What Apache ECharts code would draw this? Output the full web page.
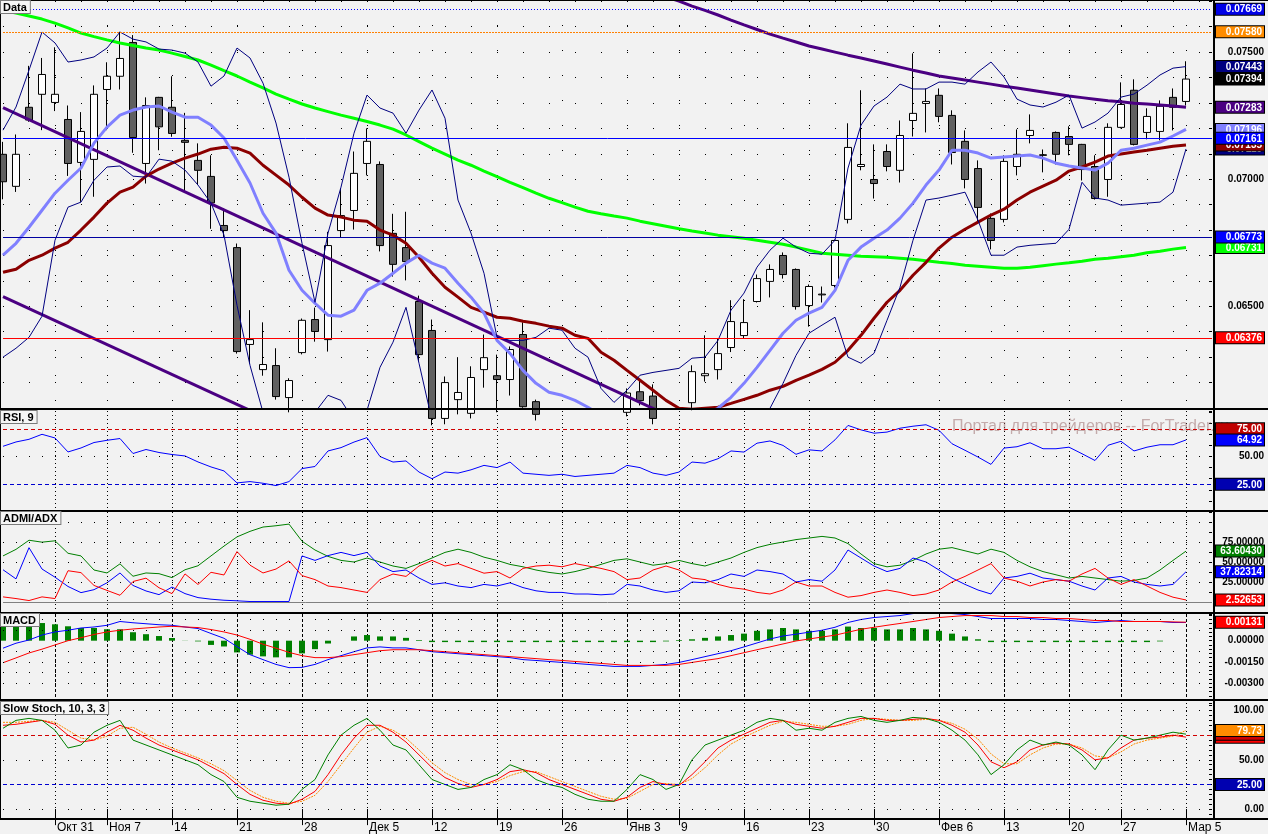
<!DOCTYPE html>
<html>
<head>
<meta charset="utf-8">
<title>Data</title>
<script src="https://cdn.jsdelivr.net/npm/echarts@6.0.0/dist/echarts.min.js"></script>
<style>
html,body{margin:0;padding:0;background:#f2f2f2;}
#chart{width:1268px;height:834px;}
</style>
</head>
<body>
<div id="chart"></div>
<script>
// ================= DATA =================
const dates = ['10.25','10.26','10.27','10.28','10.31','11.01','11.02','11.03','11.07','11.08','11.09','11.10','11.11','11.14','11.15','11.16','11.17','11.18','11.21','11.22','11.23','11.24','11.25','11.28','11.29','11.30','12.01','12.02','12.05','12.06','12.07','12.08','12.09','12.12','12.13','12.14','12.15','12.16','12.19','12.20','12.21','12.22','12.23','12.26','12.27','12.28','12.29','12.30','01.03','01.04','01.05','01.06','01.09','01.10','01.11','01.12','01.13','01.16','01.17','01.18','01.19','01.20','01.23','01.24','01.25','01.26','01.27','01.30','01.31','02.01','02.02','02.03','02.06','02.07','02.08','02.09','02.10','02.13','02.14','02.15','02.16','02.17','02.20','02.21','02.22','02.23','02.27','02.28','02.29','03.01','03.02','03.05','03.06','03.07'];
const weekStartDates = ['10.31','11.07','11.14','11.21','11.28','12.05','12.12','12.19','12.26','01.03','01.09','01.16','01.23','01.30','02.06','02.13','02.20','02.27','03.05'];
const monthNames = {'01':'Янв','02':'Фев','03':'Мар','10':'Окт','11':'Ноя','12':'Дек'};

const candleOpen = [0.07098,0.06972,0.07283,0.07334,0.07302,0.07235,0.07066,0.07078,0.07353,0.07405,
 0.07538,0.07062,0.07322,0.07283,0.07153,0.07074,0.07011,0.06818,0.06731,0.06350,
 0.06251,0.06267,0.06141,0.06318,0.06448,0.06369,0.06798,0.06877,0.07062,0.07058,
 0.06787,0.06731,0.06519,0.06405,0.06059,0.06133,0.06079,0.06251,0.06227,0.06212,
 0.06389,0.06125,0.06075,0.06051,0.06067,0.06036,0.06059,0.06075,0.06083,0.06164,
 0.06147,0.06059,0.06028,0.06121,0.06227,0.06251,0.06338,0.06385,0.06519,0.06598,
 0.06700,0.06645,0.06503,0.06545,0.06582,0.06842,0.07050,0.06999,0.07109,0.07035,
 0.07231,0.07298,0.07330,0.07251,0.07149,0.07042,0.06846,0.06842,0.07050,0.07172,
 0.07096,0.07184,0.07168,0.07137,0.07050,0.06999,0.07204,0.07350,0.07184,0.07188,
 0.07322,0.07306];
const candleHigh = [0.07147,0.07176,0.07446,0.07477,0.07519,0.07290,0.07264,0.07369,0.07460,0.07580,
 0.07567,0.07322,0.07324,0.07405,0.07261,0.07141,0.07094,0.06885,0.06747,0.06485,
 0.06437,0.06335,0.06217,0.06452,0.06495,0.06793,0.06964,0.07109,0.07200,0.07070,
 0.06864,0.06872,0.06542,0.06448,0.06224,0.06300,0.06264,0.06389,0.06310,0.06342,
 0.06437,0.06133,0.06091,0.06083,0.06091,0.06075,0.06087,0.06095,0.06177,0.06209,
 0.06193,0.06083,0.06091,0.06268,0.06386,0.06373,0.06524,0.06528,0.06625,0.06665,
 0.06712,0.06649,0.06586,0.06578,0.06763,0.07220,0.07350,0.07137,0.07137,0.07231,
 0.07495,0.07357,0.07357,0.07271,0.07192,0.07074,0.06865,0.07094,0.07196,0.07255,
 0.07117,0.07188,0.07208,0.07139,0.07094,0.07220,0.07381,0.07393,0.07279,0.07310,
 0.07357,0.07464];
const candleLow = [0.06921,0.06950,0.07226,0.07193,0.07268,0.07013,0.06911,0.06931,0.07193,0.07353,
 0.07104,0.06983,0.07114,0.07167,0.06950,0.06977,0.06805,0.06773,0.06314,0.06275,
 0.06227,0.06133,0.06083,0.06311,0.06361,0.06322,0.06771,0.06802,0.07015,0.06716,
 0.06617,0.06602,0.06283,0.06032,0.06036,0.06075,0.06059,0.06180,0.06083,0.06149,
 0.06101,0.06051,0.06028,0.06020,0.06004,0.06012,0.06036,0.06051,0.06067,0.06110,
 0.06036,0.06004,0.06012,0.06091,0.06204,0.06212,0.06320,0.06373,0.06515,0.06535,
 0.06609,0.06487,0.06420,0.06515,0.06574,0.06826,0.07035,0.06924,0.07031,0.06987,
 0.07168,0.07184,0.07224,0.07058,0.06964,0.06830,0.06724,0.06830,0.07015,0.07141,
 0.07027,0.07058,0.07094,0.06995,0.06920,0.06931,0.07200,0.07133,0.07157,0.07153,
 0.07192,0.07290];
const candleClose = [0.06990,0.07098,0.07233,0.07412,0.07334,0.07062,0.07188,0.07334,0.07405,0.07475,
 0.07164,0.07290,0.07206,0.07180,0.07145,0.07035,0.06907,0.06798,0.06322,0.06369,
 0.06271,0.06145,0.06208,0.06445,0.06401,0.06739,0.06857,0.07023,0.07149,0.06739,
 0.06665,0.06676,0.06310,0.06059,0.06200,0.06161,0.06220,0.06298,0.06212,0.06330,
 0.06105,0.06075,0.06051,0.06067,0.06036,0.06059,0.06075,0.06091,0.06159,0.06129,
 0.06059,0.06028,0.06083,0.06243,0.06235,0.06314,0.06440,0.06436,0.06609,0.06645,
 0.06625,0.06499,0.06578,0.06548,0.06759,0.07125,0.07058,0.06983,0.07050,0.07172,
 0.07259,0.07306,0.07247,0.07105,0.06999,0.06889,0.06759,0.07070,0.07098,0.07192,
 0.07094,0.07098,0.07137,0.07038,0.06924,0.07204,0.07294,0.07137,0.07247,0.07287,
 0.07283,0.07394];

const maLightBlue = [0.06701,0.06748,0.06811,0.06878,0.06945,0.06996,0.07044,0.07142,0.07205,0.07252,
 0.07272,0.07284,0.07288,0.07264,0.07244,0.07244,0.07213,0.07162,0.07075,0.06985,
 0.06866,0.06788,0.06642,0.06563,0.06512,0.06465,0.06461,0.06485,0.06563,0.06591,
 0.06630,0.06670,0.06701,0.06670,0.06650,0.06591,0.06536,0.06473,0.06366,0.06315,
 0.06248,0.06197,0.06162,0.06150,0.06130,0.06103,0.06071,0.06032,0.06012,0.06004,
 0.06012,0.06020,0.06032,0.06051,0.06075,0.06099,0.06142,0.06197,0.06260,0.06327,
 0.06394,0.06445,0.06473,0.06496,0.06563,0.06681,0.06733,0.06768,0.06800,0.06847,
 0.06906,0.06977,0.07036,0.07114,0.07114,0.07103,0.07083,0.07087,0.07091,0.07095,
 0.07083,0.07063,0.07052,0.07044,0.07036,0.07063,0.07114,0.07122,0.07134,0.07146,
 0.07170,0.07196];
const maDarkRed = [0.06634,0.06646,0.06681,0.06701,0.06729,0.06752,0.06800,0.06851,0.06906,0.06949,
 0.06969,0.07012,0.07040,0.07063,0.07083,0.07099,0.07118,0.07126,0.07122,0.07103,
 0.07055,0.07016,0.06977,0.06929,0.06886,0.06859,0.06851,0.06839,0.06835,0.06800,
 0.06780,0.06748,0.06693,0.06630,0.06575,0.06536,0.06496,0.06477,0.06457,0.06453,
 0.06441,0.06433,0.06422,0.06414,0.06386,0.06374,0.06319,0.06288,0.06248,0.06209,
 0.06170,0.06130,0.06099,0.06095,0.06099,0.06103,0.06118,0.06134,0.06150,0.06170,
 0.06185,0.06209,0.06229,0.06252,0.06280,0.06327,0.06386,0.06453,0.06516,0.06563,
 0.06622,0.06673,0.06729,0.06772,0.06803,0.06831,0.06859,0.06882,0.06918,0.06949,
 0.06973,0.06996,0.07032,0.07048,0.07067,0.07091,0.07099,0.07107,0.07114,0.07122,
 0.07130,0.07135];
const maGreen = [0.07664,0.07654,0.07642,0.07630,0.07614,0.07595,0.07575,0.07561,0.07548,0.07536,
 0.07526,0.07516,0.07508,0.07496,0.07483,0.07469,0.07449,0.07427,0.07406,0.07382,
 0.07359,0.07335,0.07315,0.07296,0.07280,0.07266,0.07252,0.07240,0.07227,0.07213,
 0.07197,0.07174,0.07148,0.07122,0.07099,0.07075,0.07055,0.07032,0.07010,0.06988,
 0.06967,0.06945,0.06925,0.06908,0.06890,0.06874,0.06864,0.06855,0.06847,0.06835,
 0.06825,0.06815,0.06805,0.06796,0.06788,0.06780,0.06774,0.06768,0.06760,0.06752,
 0.06744,0.06733,0.06721,0.06709,0.06705,0.06701,0.06697,0.06695,0.06693,0.06689,
 0.06685,0.06679,0.06673,0.06668,0.06662,0.06658,0.06654,0.06650,0.06650,0.06654,
 0.06660,0.06666,0.06671,0.06677,0.06685,0.06689,0.06695,0.06701,0.06711,0.06717,
 0.06725,0.06731];
const maPurple = [null,null,null,null,null,null,null,null,null,null,
 null,null,null,null,null,null,null,null,null,null,
 null,null,null,null,null,null,null,null,null,null,
 null,null,null,null,null,null,null,null,null,null,
 null,null,null,null,null,null,null,null,null,null,
 0.07736,0.07717,0.07701,0.07681,0.07664,0.07646,0.07626,0.07607,0.07589,0.07571,
 0.07555,0.07540,0.07524,0.07512,0.07500,0.07488,0.07477,0.07465,0.07453,0.07441,
 0.07429,0.07418,0.07406,0.07398,0.07390,0.07382,0.07374,0.07366,0.07359,0.07351,
 0.07343,0.07335,0.07327,0.07321,0.07315,0.07309,0.07305,0.07299,0.07296,0.07292,
 0.07288,0.07283];
const bandUpper = [0.07193,0.07284,0.07429,0.07579,0.07536,0.07461,0.07469,0.07481,0.07516,0.07579,
 0.07551,0.07540,0.07512,0.07508,0.07496,0.07461,0.07366,0.07406,0.07516,0.07477,
 0.07378,0.07221,0.07008,0.06748,0.06516,0.06788,0.06969,0.07181,0.07331,0.07280,
 0.07260,0.07181,0.07272,0.07351,0.07240,0.06918,0.06788,0.06630,0.06378,0.06366,
 0.06366,0.06378,0.06414,0.06406,0.06335,0.06300,0.06177,0.06122,0.06170,0.06229,
 0.06240,0.06248,0.06256,0.06296,0.06300,0.06366,0.06485,0.06552,0.06654,0.06721,
 0.06768,0.06733,0.06709,0.06705,0.06760,0.07044,0.07213,0.07288,0.07323,0.07374,
 0.07355,0.07355,0.07382,0.07382,0.07374,0.07422,0.07461,0.07402,0.07315,0.07292,
 0.07284,0.07303,0.07331,0.07201,0.07225,0.07260,0.07323,0.07335,0.07370,0.07410,
 0.07437,0.07443];
const bandLower = [0.06300,0.06335,0.06378,0.06461,0.06760,0.06890,0.06910,0.06996,0.07048,0.07052,
 0.07012,0.07008,0.07079,0.07071,0.07036,0.06977,0.06906,0.06780,0.06504,0.06268,
 0.06083,0.06012,0.05973,0.06012,0.06083,0.06150,0.06130,0.06051,0.06091,0.06260,
 0.06359,0.06496,0.06276,0.06051,0.05973,0.05933,0.05914,0.05914,0.05933,0.05941,
 0.05933,0.05914,0.05902,0.05894,0.05886,0.05874,0.05874,0.05874,0.05886,0.05894,
 0.05902,0.05914,0.05925,0.05941,0.05957,0.05973,0.06004,0.06032,0.06060,0.06099,
 0.06197,0.06307,0.06394,0.06426,0.06457,0.06300,0.06276,0.06315,0.06445,0.06575,
 0.06760,0.06918,0.06926,0.06937,0.06949,0.06839,0.06701,0.06701,0.06733,0.06740,
 0.06744,0.06748,0.06803,0.06988,0.06926,0.06918,0.06898,0.06902,0.06906,0.06910,
 0.06949,0.07119];
// channel trend lines: [bar index, price]
const trendUpper = [[0, 0.07282], [52, 0.06051]];
const trendLower = [[0, 0.06538], [20, 0.06067]];
const priceLevels = {blueDotted: 0.07669, orangeDotted: 0.07580, blueSolid: 0.07161, navySolid: 0.06773, redSolid: 0.06376};
const priceTicks = [0.065, 0.070, 0.075];

const rsi = [59.2,63.1,65.5,70.0,66.7,54.1,57.7,62.6,64.6,66.2,
 52.7,56.3,53.6,51.8,50.5,45.1,40.6,37.0,26.2,27.4,
 25.9,23.8,27.4,39.1,41.0,55.0,58.0,63.0,67.0,50.0,
 45.0,46.0,36.0,30.0,36.0,35.0,38.0,42.0,40.0,45.0,
 35.0,34.0,33.0,34.0,32.0,33.0,34.0,35.0,42.0,40.0,
 35.0,33.0,36.0,45.0,44.0,48.0,55.0,54.0,62.0,64.0,
 60.0,52.0,56.0,55.0,65.0,78.0,74.0,71.0,72.0,75.5,
 77.3,78.6,73.6,61.5,55.6,49.5,42.9,57.6,58.8,62.4,
 57.0,57.0,58.4,52.5,46.4,60.1,63.7,55.0,58.4,60.6,
 60.6,64.92];
const rsiLevels = [75, 25];

const adxMain = [57.6,65.8,77.2,74.8,76.5,60.9,57.6,40.0,36.3,47.7,
 32.2,36.3,35.4,30.5,40.3,45.3,57.6,69.9,81.4,88.3,
 93.7,95.3,97.4,76.0,65,57,52,50,55,50,
 45,42,48,55,62,66,62,56,52,47,
 44,40,37,35,38,42,47,52,54,50,
 46,48,52,48,45,50,55,62,68,72,
 75,78,80,82,80,73,60,48,44,46,
 52,60,66,68,64,60,66,62,52,44,
 38,34,30,32,30,28,26,27,30,40,
 52,63.60430];
const adxPlus = [40.3,28.9,67.9,41.2,31.0,19.4,11.7,15.4,24.0,36.3,
 20.7,13.8,9.2,18.7,10.5,5.5,3.5,2.2,1.5,0.6,
 0.6,0.6,0.6,57.6,52,58,62,58,62,45,
 38,40,30,22,24,20,18,22,20,24,
 18,14,12,12,10,10,9,10,22,20,
 15,12,14,25,24,28,35,32,40,38,
 35,25,28,26,40,65,55,45,38,42,
 55,50,40,30,22,15,10,30,32,36,
 30,28,26,20,15,30,32,25,22,20,
 22,37.82314];
const adxMinus = [6.4,4.3,1.8,6.4,4.3,39.1,36.7,20.7,14.5,8.4,
 25.6,29.8,17.8,10.5,35.1,21.9,37.1,33.8,63.0,46.1,
 36.3,41.2,51.4,33.0,28,20,18,15,12,28,
 35,32,45,52,45,48,42,36,38,30,
 42,45,46,44,48,45,42,38,28,30,
 40,45,40,30,28,22,18,16,12,10,
 15,25,20,20,12,6,8,12,15,12,
 8,10,15,25,32,40,48,30,26,20,
 25,28,26,35,42,30,22,28,20,12,
 6,2.52653];

const macdHist = [0.00097,0.00097,0.00116,0.00125,0.00116,0.00102,0.00090,0.00090,0.00081,0.00081,
 0.00060,0.00046,0.00033,0.00019,0.00001,-0.00005,-0.00030,-0.00041,-0.00083,-0.00099,
 -0.00111,-0.00118,-0.00118,-0.00090,-0.00060,-0.00020,0.00000,0.00030,0.00040,0.00030,
 0.00030,0.00020,0.00005,-0.00010,-0.00010,-0.00010,-0.00010,-0.00010,-0.00010,-0.00010,
 -0.00010,-0.00010,-0.00010,-0.00010,-0.00010,-0.00010,-0.00010,-0.00010,-0.00010,-0.00010,
 -0.00010,-0.00005,0.00005,0.00010,0.00020,0.00030,0.00040,0.00050,0.00070,0.00080,
 0.00090,0.00080,0.00070,0.00070,0.00080,0.00100,0.00090,0.00090,0.00080,0.00080,
 0.00090,0.00080,0.00070,0.00050,0.00030,0.00010,-0.00010,-0.00010,-0.00010,-0.00010,
 -0.00010,-0.00010,-0.00010,-0.00010,-0.00010,-0.00010,-0.00010,-0.00010,-0.00010,-0.00005,
 0.00000,0.00000];
const macdLine = [-0.00053,-0.00018,0.00005,0.00040,0.00062,0.00074,0.00090,0.00097,0.00109,0.00136,
 0.00127,0.00120,0.00113,0.00109,0.00097,0.00086,0.00051,0.00017,-0.00042,-0.00099,
 -0.00134,-0.00168,-0.00191,-0.00189,-0.00168,-0.00134,-0.00106,-0.00078,-0.00051,-0.00044,
 -0.00051,-0.00051,-0.00064,-0.00078,-0.00085,-0.00092,-0.00099,-0.00106,-0.00113,-0.00120,
 -0.00134,-0.00140,-0.00147,-0.00154,-0.00161,-0.00168,-0.00175,-0.00182,-0.00182,-0.00182,
 -0.00175,-0.00168,-0.00154,-0.00134,-0.00113,-0.00092,-0.00071,-0.00044,-0.00016,0.00012,
 0.00033,0.00046,0.00060,0.00074,0.00095,0.00129,0.00150,0.00164,0.00171,0.00178,
 0.00192,0.00199,0.00199,0.00192,0.00185,0.00171,0.00157,0.00157,0.00157,0.00157,
 0.00150,0.00150,0.00143,0.00136,0.00129,0.00136,0.00143,0.00136,0.00136,0.00136,
 0.00129,0.00129];
const macdSignal = [-0.00156,-0.00122,-0.00087,-0.00060,-0.00030,0.00000,0.00021,0.00044,0.00062,0.00074,
 0.00083,0.00090,0.00097,0.00102,0.00097,0.00093,0.00079,0.00062,0.00040,0.00010,
 -0.00025,-0.00053,-0.00083,-0.00106,-0.00120,-0.00120,-0.00113,-0.00099,-0.00085,-0.00071,
 -0.00064,-0.00064,-0.00064,-0.00071,-0.00078,-0.00085,-0.00092,-0.00099,-0.00106,-0.00113,
 -0.00120,-0.00127,-0.00134,-0.00140,-0.00147,-0.00154,-0.00161,-0.00168,-0.00175,-0.00175,
 -0.00175,-0.00175,-0.00168,-0.00154,-0.00140,-0.00127,-0.00106,-0.00085,-0.00064,-0.00044,
 -0.00023,-0.00002,0.00012,0.00026,0.00039,0.00060,0.00081,0.00095,0.00109,0.00122,
 0.00136,0.00150,0.00164,0.00171,0.00178,0.00178,0.00178,0.00171,0.00171,0.00164,
 0.00164,0.00157,0.00157,0.00150,0.00143,0.00143,0.00136,0.00136,0.00136,0.00136,
 0.00133,0.00131];
const macdTicks = [0, -0.0015, -0.003];

const stochMain = [82,90,92,90,80,62,65,78,85,90,
 70,65,60,55,50,45,35,28,12,8,
 6,4,5,20,30,55,75,85,92,80,
 65,60,45,30,25,20,22,30,35,45,
 40,30,25,22,15,10,8,8,20,35,
 30,20,25,50,65,70,75,80,88,92,
 90,80,82,80,88,92,94,90,88,90,
 93,92,88,80,70,55,35,45,60,70,
 65,68,65,55,40,60,75,70,72,75,
 78,76];
const stochSignal = [85,86,88,90,86,75,68,70,78,85,
 80,72,65,60,55,50,43,36,25,15,
 9,6,5,10,18,35,55,72,85,85,
 78,68,55,42,32,26,22,25,30,38,
 40,37,30,25,20,15,10,8,12,22,
 28,25,24,35,48,62,70,76,82,88,
 90,86,84,82,84,88,92,92,90,90,
 91,92,90,85,78,65,48,42,48,60,
 65,67,66,60,50,52,62,70,72,73,
 75,73];
const stochOrange = [88,88,89,90,88,80,72,70,74,82,
 83,76,68,62,57,52,46,39,29,19,
 12,8,6,8,14,28,45,62,78,84,
 80,72,60,47,37,30,25,25,28,34,
 38,38,33,28,23,18,13,10,11,18,
 25,26,25,31,42,55,66,73,79,85,
 89,88,86,84,84,86,90,92,91,90,
 90,91,90,87,81,71,56,46,46,55,
 62,66,66,62,54,52,58,66,70,72,
 74,79.73];
const stochLevels = [75, 25];

// ================= CHART =================
const FONT = 'Liberation Sans';
const weekIdx = weekStartDates.map(d => dates.indexOf(d));
const isWeek = (i) => weekIdx.indexOf(i) >= 0;
const firstOfMonth = {};
weekStartDates.forEach(d => { const m = d.slice(0, 2); if (!(m in firstOfMonth)) firstOfMonth[m] = d; });
function xLabel(v) {
  const m = v.slice(0, 2), d = parseInt(v.slice(3), 10);
  return firstOfMonth[m] === v ? monthNames[m] + ' ' + d : String(d);
}
const last = a => a[a.length - 1];

function tag(text, bg, fg) {
  return {
    show: true, position: 'end', distance: 4,
    formatter: '{t|' + text + '}',
    rich: { t: { width: 44, align: 'right', color: fg || '#ffffff', backgroundColor: bg,
      borderColor: '#000', borderWidth: 1, padding: [1, 2, 0, 2], lineHeight: 9,
      fontSize: 10, fontWeight: 'bold', fontFamily: FONT } }
  };
}
const noLine = { color: 'rgba(0,0,0,0)', width: 0 };
function valueTag(v, digits, bg, fg) {
  return { yAxis: v, lineStyle: noLine, label: tag(v.toFixed(digits), bg, fg) };
}
function levelLine(v, color, type) {
  return { yAxis: v, lineStyle: { color: color, type: type, width: 1 }, label: { show: false } };
}
function ml(data) {
  return { symbol: ['none', 'none'], silent: true, animation: false, precision: 8, data: data };
}

const grids = [
  { left: 3, right: 56, top: 0, height: 408 },
  { left: 3, right: 56, top: 411, height: 101 },
  { left: 3, right: 56, top: 512, height: 100 },
  { left: 3, right: 56, top: 614, height: 86 },
  { left: 3, right: 56, top: 703, height: 116 }
];

function xAxisFor(k, splitType) {
  const isLast = k === 4;
  return {
    type: 'category', gridIndex: k, data: dates, boundaryGap: false,
    axisLine: { show: false },
    axisTick: isLast ? { show: true, interval: (i) => isWeek(i), length: 16, lineStyle: { color: '#000' } } : { show: false },
    axisLabel: isLast ? { show: true, interval: (i) => isWeek(i), formatter: (v) => xLabel(v), align: 'left',
      margin: 3, padding: [0, 0, 0, 2], color: '#000', fontSize: 12, fontFamily: FONT } : { show: false },
    splitLine: { show: true, interval: (i) => isWeek(i), lineStyle: { color: '#000', width: 1, type: splitType } }
  };
}

const labelBase = { align: 'right', margin: 52, color: '#000', fontWeight: 'bold', fontSize: 10, fontFamily: FONT };
const tickBase = { show: true, inside: true, length: 3, lineStyle: { color: '#000' } };
function near(list, v, eps) { return list.some(t => Math.abs(t - v) < eps); }

const yAxes = [
  { type: 'value', gridIndex: 0, position: 'right', min: 0.061, max: 0.07705, interval: 0.001,
    axisLine: { show: false }, axisTick: tickBase,
    axisLabel: Object.assign({}, labelBase, { formatter: v => near(priceTicks, v, 1e-7) ? v.toFixed(5) : '' }),
    splitLine: { show: true, lineStyle: { color: '#000', type: [1, 25], width: 1 } } },
  { type: 'value', gridIndex: 1, position: 'right', min: 0, max: 91, interval: 10,
    axisLine: { show: false }, axisTick: tickBase,
    axisLabel: Object.assign({}, labelBase, { formatter: v => Math.abs(v - 50) < 1e-6 ? '50.00' : '' }),
    splitLine: { show: false } },
  { type: 'value', gridIndex: 2, position: 'right', min: -12.5, max: 112.5, interval: 12.5,
    axisLine: { show: false }, axisTick: tickBase,
    axisLabel: Object.assign({}, labelBase, { formatter: v => near([25, 50, 75], v, 1e-6) ? v.toFixed(5) : '' }),
    splitLine: { show: false } },
  { type: 'value', gridIndex: 3, position: 'right', min: -0.0042, max: 0.00189, interval: 0.0003,
    axisLine: { show: false }, axisTick: tickBase,
    axisLabel: Object.assign({}, labelBase, { formatter: v => near(macdTicks, v, 1e-8) ? (Math.abs(v) < 1e-8 ? '0.00000' : v.toFixed(5)) : '' }),
    splitLine: { show: false } },
  { type: 'value', gridIndex: 4, position: 'right', min: -10, max: 107.6, interval: 5,
    axisLine: { show: false }, axisTick: tickBase,
    axisLabel: Object.assign({}, labelBase, { formatter: v => near([0, 50, 100], v, 1e-6) ? v.toFixed(2) : '' }),
    splitLine: { show: false } }
];

function line(name, data, x, color, width, z, extra) {
  return Object.assign({ type: 'line', name: name, data: data, xAxisIndex: x, yAxisIndex: x, showSymbol: false,
    symbol: 'none', lineStyle: { color: color, width: width }, z: z || 3, animation: false, connectNulls: false }, extra || {});
}

const candles = candleOpen.map((o, i) => [o, candleClose[i], candleLow[i], candleHigh[i]]);
const dotted = [1, 12];

const series = [
  { type: 'candlestick', name: 'Data', xAxisIndex: 0, yAxisIndex: 0, data: candles, barWidth: 8, z: 2, animation: false,
    itemStyle: { color: '#ffffff', color0: '#606060', borderColor: '#000000', borderColor0: '#000000', borderWidth: 1 },
    markLine: ml([
      levelLine(priceLevels.blueDotted, '#0000ff', [1, 2]),
      levelLine(priceLevels.orangeDotted, '#ff8000', [2, 1]),
      levelLine(priceLevels.blueSolid, '#0000ff', 'solid'),
      levelLine(priceLevels.navySolid, '#0000a0', 'solid'),
      levelLine(priceLevels.redSolid, '#ff0000', 'solid')
    ]) },
  line('MA green', maGreen, 0, '#00ff00', 3),
  line('MA purple', maPurple, 0, '#4b0082', 3),
  line('Trend upper', trendUpper, 0, '#4b0082', 3),
  line('Trend lower', trendLower, 0, '#4b0082', 3),
  line('MA dark red', maDarkRed, 0, '#8b0000', 3),
  line('MA light blue', maLightBlue, 0, '#8080ff', 3),
  line('Band upper', bandUpper, 0, '#000080', 1),
  line('Band lower', bandLower, 0, '#000080', 1),
  // value tags on price scale
  { type: 'line', name: 'tags0', data: [], xAxisIndex: 0, yAxisIndex: 0, z: 20, animation: false,
    markLine: ml([
      valueTag(priceLevels.blueDotted, 5, '#0000e6'),
      valueTag(priceLevels.orangeDotted, 5, '#ff8c00'),
      valueTag(last(bandUpper), 5, '#000080'),
      valueTag(last(candleClose), 5, '#000000'),
      valueTag(last(maPurple), 5, '#4b0082'),
      valueTag(last(bandLower), 5, '#000080'),
      valueTag(last(maDarkRed), 5, '#8b0000'),
      valueTag(last(maLightBlue), 5, '#8080ff'),
      valueTag(priceLevels.blueSolid, 5, '#0000ff'),
      valueTag(last(maGreen), 5, '#00ff00'),
      valueTag(priceLevels.navySolid, 5, '#0000ff'),
      valueTag(priceLevels.redSolid, 5, '#ff0000')
    ]) },

  // RSI
  line('RSI', rsi, 1, '#0000ff', 1, 3, {
    markLine: ml([
      { yAxis: 50, lineStyle: { color: '#000', type: dotted, width: 1 }, label: { show: false } },
      { yAxis: rsiLevels[0], lineStyle: { color: '#d00000', type: [4, 3], width: 1 }, label: tag(rsiLevels[0].toFixed(2), '#c00000') },
      valueTag(last(rsi), 2, '#0000ff'),
      { yAxis: rsiLevels[1], lineStyle: { color: '#0000d0', type: [4, 3], width: 1 }, label: tag(rsiLevels[1].toFixed(2), '#0000b0') }
    ]) }),

  // ADX
  line('ADX', adxMain, 2, '#008000', 1),
  line('+DI', adxPlus, 2, '#0000ff', 1),
  line('-DI', adxMinus, 2, '#ff0000', 1, 3, {
    markLine: ml([
      { yAxis: 0, lineStyle: { color: '#808080', type: 'solid', width: 1 }, label: { show: false } },
      { yAxis: 25, lineStyle: { color: '#000', type: dotted, width: 1 }, label: { show: false } },
      { yAxis: 50, lineStyle: { color: '#000', type: dotted, width: 1 }, label: { show: false } },
      { yAxis: 75, lineStyle: { color: '#000', type: dotted, width: 1 }, label: { show: false } },
      { yAxis: 100, lineStyle: { color: '#000', type: dotted, width: 1 }, label: { show: false } },
      valueTag(last(adxMain), 5, '#008000'),
      valueTag(last(adxPlus), 5, '#0000ff'),
      valueTag(last(adxMinus), 5, '#ff0000')
    ]) }),

  // MACD
  { type: 'bar', name: 'OsMA', data: macdHist, xAxisIndex: 3, yAxisIndex: 3, barWidth: 6, z: 2, animation: false,
    itemStyle: { color: '#008000' },
    markLine: ml([-0.003, -0.00225, -0.0015, -0.00075, 0.00075, 0.0015].map(v => ({ yAxis: v, lineStyle: { color: '#000', type: dotted, width: 1 }, label: { show: false } }))) },
  line('MACD', macdLine, 3, '#0000ff', 1),
  line('Signal', macdSignal, 3, '#ff0000', 1, 3, {
    markLine: ml([valueTag(last(macdSignal), 5, '#ff0000')]) }),

  // Stochastic
  line('Stoch orange', stochOrange, 4, '#ff8c00', 1, 3, { lineStyle: { color: '#ff8c00', width: 1, type: [2, 1] } }),
  line('Stoch signal', stochSignal, 4, '#ff0000', 1),
  line('Stoch main', stochMain, 4, '#008000', 1, 3, {
    markLine: ml([
      { yAxis: 0, lineStyle: { color: '#000', type: dotted, width: 1 }, label: { show: false } },
      { yAxis: 50, lineStyle: { color: '#000', type: dotted, width: 1 }, label: { show: false } },
      { yAxis: 100, lineStyle: { color: '#000', type: dotted, width: 1 }, label: { show: false } },
      { yAxis: stochLevels[0], lineStyle: { color: '#d00000', type: [4, 3], width: 1 }, label: { show: false } },
      { yAxis: stochLevels[1], lineStyle: { color: '#0000d0', type: [4, 3], width: 1 }, label: tag(stochLevels[1].toFixed(2), '#0000b0') },
      valueTag(last(stochSignal), 2, '#ff0000'),
      valueTag(last(stochMain), 2, '#cc0000'),
      valueTag(last(stochOrange), 2, '#ff8c00')
    ]) })
];

function bar(x, y, w, h) { return { type: 'rect', silent: true, z: 100, shape: { x: x, y: y, width: w, height: h }, style: { fill: '#000' } }; }
function title(text, x, y) {
  return { type: 'text', silent: true, z: 101, x: x, y: y,
    style: { text: text, font: 'bold 11px "' + FONT + '"', fill: '#000', verticalAlign: 'top',
      backgroundColor: '#f6f6f6', borderColor: '#7a7a7a', borderWidth: 1, padding: [1, 3, 0, 2] } };
}

const graphic = [
  { type: 'text', silent: true, z: 1, x: 952, y: 419,
    style: { text: 'Портал для трейдеров -- ForTrader.ru', font: '16px "' + FONT + '"', fill: 'rgba(150,100,100,0.5)', verticalAlign: 'top' } },
  bar(0, 0, 1268, 1),
  bar(0, 0, 1, 820),
  bar(1213, 0, 2, 820),
  bar(0, 408, 1268, 2),
  bar(0, 510, 1268, 2),
  bar(0, 612, 1268, 2),
  bar(0, 699, 1268, 2),
  bar(0, 818, 1268, 2),
  title('Data', 1, 1),
  title('RSI, 9', 1, 411),
  title('ADMI/ADX', 1, 512),
  title('MACD', 1, 614),
  title('Slow Stoch, 10, 3, 3', 1, 702)
];

const chart = echarts.init(document.getElementById('chart'), null, { renderer: 'canvas' });
chart.setOption({
  backgroundColor: '#f2f2f2',
  animation: false,
  grid: grids,
  xAxis: [xAxisFor(0, [1, 24]), xAxisFor(1, [1, 3]), xAxisFor(2, [1, 3]), xAxisFor(3, [3, 2]), xAxisFor(4, [1, 3])],
  yAxis: yAxes,
  series: series,
  graphic: graphic
});
</script>
</body>
</html>
